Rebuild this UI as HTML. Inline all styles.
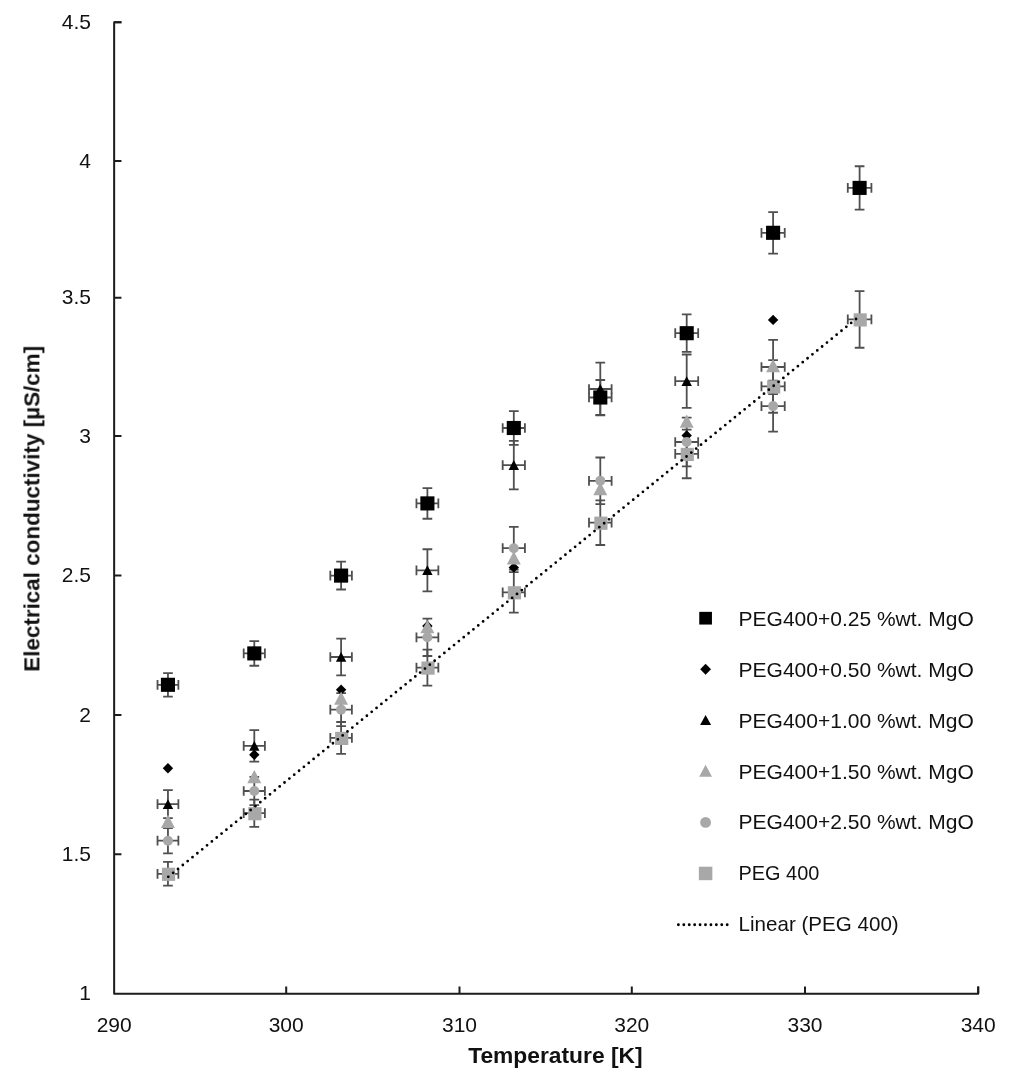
<!DOCTYPE html>
<html><head><meta charset="utf-8"><title>chart</title>
<style>
html,body{margin:0;padding:0;background:#fff;}
body{width:1020px;height:1077px;overflow:hidden;}
svg{display:block;}
text{font-family:"Liberation Sans",sans-serif;fill:#111;}
.tk{font-size:21px;}
.lg{font-size:21px;}
.ti{font-size:22.5px;font-weight:bold;}
</style></head><body>
<svg width="1020" height="1077" viewBox="0 0 1020 1077">
<rect width="1020" height="1077" fill="#fff"/>
<path d="M121.45 22.35H114.15V993.75H978.2v-7.3" stroke="#1c1c1c" stroke-width="2" fill="none" stroke-linejoin="round"/>
<path d="M114.15 22.35h7.3M114.15 161.10h7.3M114.15 297.80h7.3M114.15 436.06h7.3M114.15 575.60h7.3M114.15 715.00h7.3M114.15 854.30h7.3M286.20 993.75v-7.3M459.50 993.75v-7.3M631.80 993.75v-7.3M805.00 993.75v-7.3M978.20 993.75v-7.3" stroke="#1c1c1c" stroke-width="2" fill="none"/>
<path d="M167.95 673.07V696.53M163.10 673.07H172.80M163.10 696.53H172.80M157.52 684.80H178.38M157.52 679.95V689.65M178.38 679.95V689.65" stroke="#4f4f4f" stroke-width="1.8" fill="none"/>
<path d="M254.30 641.04V665.76M249.45 641.04H259.15M249.45 665.76H259.15M243.70 653.40H264.90M243.70 648.55V658.25M264.90 648.55V658.25" stroke="#4f4f4f" stroke-width="1.8" fill="none"/>
<path d="M341.10 561.68V589.52M336.25 561.68H345.95M336.25 589.52H345.95M330.32 575.60H351.88M330.32 570.75V580.45M351.88 570.75V580.45" stroke="#4f4f4f" stroke-width="1.8" fill="none"/>
<path d="M427.40 488.04V518.76M422.55 488.04H432.25M422.55 518.76H432.25M416.45 503.40H438.35M416.45 498.55V508.25M438.35 498.55V508.25" stroke="#4f4f4f" stroke-width="1.8" fill="none"/>
<path d="M513.80 411.13V444.87M508.95 411.13H518.65M508.95 444.87H518.65M502.68 428.00H524.92M502.68 423.15V432.85M524.92 423.15V432.85" stroke="#4f4f4f" stroke-width="1.8" fill="none"/>
<path d="M600.30 380.02V414.98M595.45 380.02H605.15M595.45 414.98H605.15M589.00 397.50H611.60M589.00 392.65V402.35M611.60 392.65V402.35" stroke="#4f4f4f" stroke-width="1.8" fill="none"/>
<path d="M686.70 314.44V351.96M681.85 314.44H691.55M681.85 351.96H691.55M675.23 333.20H698.17M675.23 328.35V338.05M698.17 328.35V338.05" stroke="#4f4f4f" stroke-width="1.8" fill="none"/>
<path d="M773.10 212.03V253.57M768.25 212.03H777.95M768.25 253.57H777.95M761.46 232.80H784.74M761.46 227.95V237.65M784.74 227.95V237.65" stroke="#4f4f4f" stroke-width="1.8" fill="none"/>
<path d="M859.60 166.23V209.57M854.75 166.23H864.45M854.75 209.57H864.45M847.79 187.90H871.41M847.79 183.05V192.75M871.41 183.05V192.75" stroke="#4f4f4f" stroke-width="1.8" fill="none"/>
<path d="M167.95 790.18V818.22M163.10 790.18H172.80M163.10 818.22H172.80M157.52 804.20H178.38M157.52 799.35V809.05M178.38 799.35V809.05" stroke="#4f4f4f" stroke-width="1.8" fill="none"/>
<path d="M254.30 730.13V761.67M249.45 730.13H259.15M249.45 761.67H259.15M243.70 745.90H264.90M243.70 741.05V750.75M264.90 741.05V750.75" stroke="#4f4f4f" stroke-width="1.8" fill="none"/>
<path d="M341.10 638.57V675.43M336.25 638.57H345.95M336.25 675.43H345.95M330.32 657.00H351.88M330.32 652.15V661.85M351.88 652.15V661.85" stroke="#4f4f4f" stroke-width="1.8" fill="none"/>
<path d="M427.40 549.27V591.33M422.55 549.27H432.25M422.55 591.33H432.25M416.45 570.30H438.35M416.45 565.45V575.15M438.35 565.45V575.15" stroke="#4f4f4f" stroke-width="1.8" fill="none"/>
<path d="M513.80 440.91V489.29M508.95 440.91H518.65M508.95 489.29H518.65M502.68 465.10H524.92M502.68 460.25V469.95M524.92 460.25V469.95" stroke="#4f4f4f" stroke-width="1.8" fill="none"/>
<path d="M600.30 362.53V415.47M595.45 362.53H605.15M595.45 415.47H605.15M589.00 389.00H611.60M589.00 384.15V393.85M611.60 384.15V393.85" stroke="#4f4f4f" stroke-width="1.8" fill="none"/>
<path d="M686.70 354.49V407.91M681.85 354.49H691.55M681.85 407.91H691.55M675.23 381.20H698.17M675.23 376.35V386.05M698.17 376.35V386.05" stroke="#4f4f4f" stroke-width="1.8" fill="none"/>
<path d="M773.10 339.87V394.13M768.25 339.87H777.95M768.25 394.13H777.95M761.46 367.00H784.74M761.46 362.15V371.85M784.74 362.15V371.85" stroke="#4f4f4f" stroke-width="1.8" fill="none"/>
<path d="M167.95 827.99V853.41M163.10 827.99H172.80M163.10 853.41H172.80M157.52 840.70H178.38M157.52 835.85V845.55M178.38 835.85V845.55" stroke="#4f4f4f" stroke-width="1.8" fill="none"/>
<path d="M254.30 776.83V805.17M249.45 776.83H259.15M249.45 805.17H259.15M243.70 791.00H264.90M243.70 786.15V795.85M264.90 786.15V795.85" stroke="#4f4f4f" stroke-width="1.8" fill="none"/>
<path d="M341.10 693.03V726.17M336.25 693.03H345.95M336.25 726.17H345.95M330.32 709.60H351.88M330.32 704.75V714.45M351.88 704.75V714.45" stroke="#4f4f4f" stroke-width="1.8" fill="none"/>
<path d="M427.40 618.59V656.01M422.55 618.59H432.25M422.55 656.01H432.25M416.45 637.30H438.35M416.45 632.45V642.15M438.35 632.45V642.15" stroke="#4f4f4f" stroke-width="1.8" fill="none"/>
<path d="M513.80 526.86V569.54M508.95 526.86H518.65M508.95 569.54H518.65M502.68 548.20H524.92M502.68 543.35V553.05M524.92 543.35V553.05" stroke="#4f4f4f" stroke-width="1.8" fill="none"/>
<path d="M600.30 457.48V504.12M595.45 457.48H605.15M595.45 504.12H605.15M589.00 480.80H611.60M589.00 475.95V485.65M611.60 475.95V485.65" stroke="#4f4f4f" stroke-width="1.8" fill="none"/>
<path d="M686.70 417.53V466.47M681.85 417.53H691.55M681.85 466.47H691.55M675.23 442.00H698.17M675.23 437.15V446.85M698.17 437.15V446.85" stroke="#4f4f4f" stroke-width="1.8" fill="none"/>
<path d="M773.10 380.57V431.63M768.25 380.57H777.95M768.25 431.63H777.95M761.46 406.10H784.74M761.46 401.25V410.95M784.74 401.25V410.95" stroke="#4f4f4f" stroke-width="1.8" fill="none"/>
<path d="M167.95 861.95V885.65M163.10 861.95H172.80M163.10 885.65H172.80M157.52 873.80H178.38M157.52 868.95V878.65M178.38 868.95V878.65" stroke="#4f4f4f" stroke-width="1.8" fill="none"/>
<path d="M254.30 799.54V826.86M249.45 799.54H259.15M249.45 826.86H259.15M243.70 813.20H264.90M243.70 808.35V818.05M264.90 808.35V818.05" stroke="#4f4f4f" stroke-width="1.8" fill="none"/>
<path d="M341.10 722.00V753.80M336.25 722.00H345.95M336.25 753.80H345.95M330.32 737.90H351.88M330.32 733.05V742.75M351.88 733.05V742.75" stroke="#4f4f4f" stroke-width="1.8" fill="none"/>
<path d="M427.40 649.61V685.59M422.55 649.61H432.25M422.55 685.59H432.25M416.45 667.60H438.35M416.45 662.75V672.45M438.35 662.75V672.45" stroke="#4f4f4f" stroke-width="1.8" fill="none"/>
<path d="M513.80 572.06V612.54M508.95 572.06H518.65M508.95 612.54H518.65M502.68 592.30H524.92M502.68 587.45V597.15M524.92 587.45V597.15" stroke="#4f4f4f" stroke-width="1.8" fill="none"/>
<path d="M600.30 500.39V545.01M595.45 500.39H605.15M595.45 545.01H605.15M589.00 522.70H611.60M589.00 517.85V527.55M611.60 517.85V527.55" stroke="#4f4f4f" stroke-width="1.8" fill="none"/>
<path d="M686.70 429.54V478.26M681.85 429.54H691.55M681.85 478.26H691.55M675.23 453.90H698.17M675.23 449.05V458.75M698.17 449.05V458.75" stroke="#4f4f4f" stroke-width="1.8" fill="none"/>
<path d="M773.10 360.03V412.77M768.25 360.03H777.95M768.25 412.77H777.95M761.46 386.40H784.74M761.46 381.55V391.25M784.74 381.55V391.25" stroke="#4f4f4f" stroke-width="1.8" fill="none"/>
<path d="M859.60 291.03V347.77M854.75 291.03H864.45M854.75 347.77H864.45M847.79 319.40H871.41M847.79 314.55V324.25M871.41 314.55V324.25" stroke="#4f4f4f" stroke-width="1.8" fill="none"/>
<rect x="160.90" y="677.75" width="14.1" height="14.1" fill="#000"/>
<rect x="247.25" y="646.35" width="14.1" height="14.1" fill="#000"/>
<rect x="334.05" y="568.55" width="14.1" height="14.1" fill="#000"/>
<rect x="420.35" y="496.35" width="14.1" height="14.1" fill="#000"/>
<rect x="506.75" y="420.95" width="14.1" height="14.1" fill="#000"/>
<rect x="593.25" y="390.45" width="14.1" height="14.1" fill="#000"/>
<rect x="679.65" y="326.15" width="14.1" height="14.1" fill="#000"/>
<rect x="766.05" y="225.75" width="14.1" height="14.1" fill="#000"/>
<rect x="852.55" y="180.85" width="14.1" height="14.1" fill="#000"/>
<path d="M167.95 763.00L173.15 768.20L167.95 773.40L162.75 768.20Z" fill="#000"/>
<path d="M254.30 749.60L259.50 754.80L254.30 760.00L249.10 754.80Z" fill="#000"/>
<path d="M341.10 684.50L346.30 689.70L341.10 694.90L335.90 689.70Z" fill="#000"/>
<path d="M427.40 620.80L432.60 626.00L427.40 631.20L422.20 626.00Z" fill="#000"/>
<path d="M513.80 562.40L519.00 567.60L513.80 572.80L508.60 567.60Z" fill="#000"/>
<path d="M600.30 392.30L605.50 397.50L600.30 402.70L595.10 397.50Z" fill="#000"/>
<path d="M686.70 430.30L691.90 435.50L686.70 440.70L681.50 435.50Z" fill="#000"/>
<path d="M773.10 314.70L778.30 319.90L773.10 325.10L767.90 319.90Z" fill="#000"/>
<path d="M167.95 799.20L173.15 809.00L162.75 809.00Z" fill="#000"/>
<path d="M254.30 740.90L259.50 750.70L249.10 750.70Z" fill="#000"/>
<path d="M341.10 652.00L346.30 661.80L335.90 661.80Z" fill="#000"/>
<path d="M427.40 565.30L432.60 575.10L422.20 575.10Z" fill="#000"/>
<path d="M513.80 460.10L519.00 469.90L508.60 469.90Z" fill="#000"/>
<path d="M600.30 384.00L605.50 393.80L595.10 393.80Z" fill="#000"/>
<path d="M686.70 376.20L691.90 386.00L681.50 386.00Z" fill="#000"/>
<path d="M773.10 362.00L778.30 371.80L767.90 371.80Z" fill="#000"/>
<path d="M167.95 814.70L174.95 828.00L160.95 828.00Z" fill="#A9A8A8"/>
<path d="M254.30 770.00L261.30 783.30L247.30 783.30Z" fill="#A9A8A8"/>
<path d="M341.10 691.40L348.10 704.70L334.10 704.70Z" fill="#A9A8A8"/>
<path d="M427.40 620.00L434.40 633.30L420.40 633.30Z" fill="#A9A8A8"/>
<path d="M513.80 551.20L520.80 564.50L506.80 564.50Z" fill="#A9A8A8"/>
<path d="M600.30 481.90L607.30 495.20L593.30 495.20Z" fill="#A9A8A8"/>
<path d="M686.70 414.50L693.70 427.80L679.70 427.80Z" fill="#A9A8A8"/>
<path d="M773.10 359.00L780.10 372.30L766.10 372.30Z" fill="#A9A8A8"/>
<circle cx="167.95" cy="840.70" r="5.0" fill="#A9A8A8"/>
<circle cx="254.30" cy="791.00" r="5.0" fill="#A9A8A8"/>
<circle cx="341.10" cy="709.60" r="5.0" fill="#A9A8A8"/>
<circle cx="427.40" cy="637.30" r="5.0" fill="#A9A8A8"/>
<circle cx="513.80" cy="548.20" r="5.0" fill="#A9A8A8"/>
<circle cx="600.30" cy="480.80" r="5.0" fill="#A9A8A8"/>
<circle cx="686.70" cy="442.00" r="5.0" fill="#A9A8A8"/>
<circle cx="773.10" cy="406.10" r="5.0" fill="#A9A8A8"/>
<rect x="161.95" y="867.70" width="13.2" height="13.2" fill="#A9A8A8"/>
<rect x="248.30" y="807.10" width="13.2" height="13.2" fill="#A9A8A8"/>
<rect x="335.10" y="731.80" width="13.2" height="13.2" fill="#A9A8A8"/>
<rect x="421.40" y="661.50" width="13.2" height="13.2" fill="#A9A8A8"/>
<rect x="507.80" y="586.20" width="13.2" height="13.2" fill="#A9A8A8"/>
<rect x="594.30" y="516.60" width="13.2" height="13.2" fill="#A9A8A8"/>
<rect x="680.70" y="447.80" width="13.2" height="13.2" fill="#A9A8A8"/>
<rect x="767.10" y="380.30" width="13.2" height="13.2" fill="#A9A8A8"/>
<rect x="853.60" y="313.30" width="13.2" height="13.2" fill="#A9A8A8"/>
<path d="M168.3 876.8L856.2 318.84" stroke="#000" stroke-width="2.8" stroke-linecap="round" stroke-dasharray="0 6.2359" fill="none"/>
<rect x="699.25" y="611.85" width="12.7" height="12.7" fill="#000"/>
<path d="M705.60 663.85L711.00 669.25L705.60 674.65L700.20 669.25Z" fill="#000"/>
<path d="M705.60 715.10L711.10 725.10L700.10 725.10Z" fill="#000"/>
<path d="M705.60 764.75L712.00 776.75L699.20 776.75Z" fill="#A9A8A8"/>
<circle cx="705.60" cy="822.40" r="5.4" fill="#A9A8A8"/>
<rect x="698.85" y="866.70" width="13.5" height="13.5" fill="#A9A8A8"/>
<path d="M678.4 924.7H727.3" stroke="#000" stroke-width="2.9" stroke-linecap="round" stroke-dasharray="0 5.42" fill="none"/>
<g style="will-change:transform">
<text class="lg" x="738.6" y="626.0">PEG400+0.25 %wt. MgO</text>
<text class="lg" x="738.6" y="676.9">PEG400+0.50 %wt. MgO</text>
<text class="lg" x="738.6" y="727.7">PEG400+1.00 %wt. MgO</text>
<text class="lg" x="738.6" y="778.5">PEG400+1.50 %wt. MgO</text>
<text class="lg" x="738.6" y="829.4">PEG400+2.50 %wt. MgO</text>
<text class="lg" x="738.6" y="880.2" textLength="80.7" lengthAdjust="spacingAndGlyphs">PEG 400</text>
<text class="lg" x="738.6" y="931.1" textLength="160.1" lengthAdjust="spacingAndGlyphs">Linear (PEG 400)</text>
<text class="tk" text-anchor="end" x="91" y="28.9">4.5</text>
<text class="tk" text-anchor="end" x="91" y="167.6">4</text>
<text class="tk" text-anchor="end" x="91" y="304.3">3.5</text>
<text class="tk" text-anchor="end" x="91" y="442.6">3</text>
<text class="tk" text-anchor="end" x="91" y="582.1">2.5</text>
<text class="tk" text-anchor="end" x="91" y="721.5">2</text>
<text class="tk" text-anchor="end" x="91" y="860.8">1.5</text>
<text class="tk" text-anchor="end" x="91" y="1000.2">1</text>
<text class="tk" text-anchor="middle" x="114.2" y="1031.8">290</text>
<text class="tk" text-anchor="middle" x="286.2" y="1031.8">300</text>
<text class="tk" text-anchor="middle" x="459.5" y="1031.8">310</text>
<text class="tk" text-anchor="middle" x="631.8" y="1031.8">320</text>
<text class="tk" text-anchor="middle" x="805.0" y="1031.8">330</text>
<text class="tk" text-anchor="middle" x="978.2" y="1031.8">340</text>
<text class="ti" id="xt" x="468.2" y="1063" textLength="174.4" lengthAdjust="spacingAndGlyphs">Temperature [K]</text>
<text class="ti" id="yt" transform="translate(39.4 671.8) rotate(-90)" textLength="326" lengthAdjust="spacingAndGlyphs">Electrical conductivity [µS/cm]</text>
</g>
</svg>
</body></html>
